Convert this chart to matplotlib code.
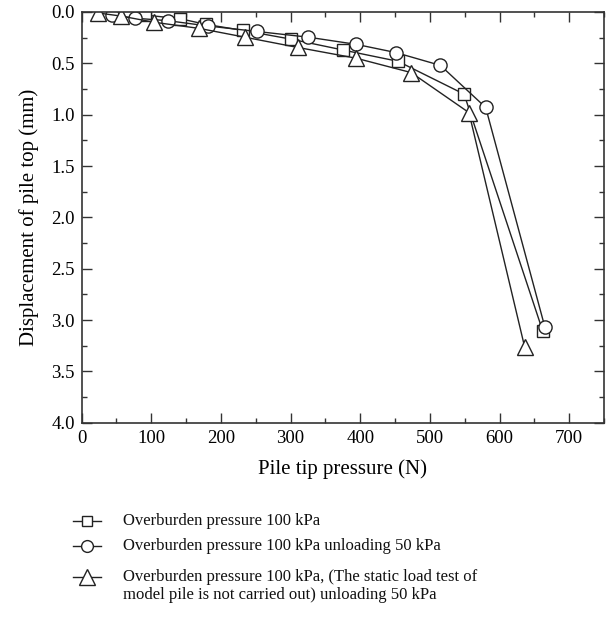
import matplotlib
matplotlib.use("Agg")
import matplotlib.pyplot as plt
from matplotlib.lines import Line2D
from matplotlib.ticker import MultipleLocator

plt.rcParams['font.family'] = ['Liberation Serif', 'DejaVu Serif']

# carga en punta (N) y desplazamiento en cabeza (mm)
x_100 = [91, 141, 178, 232, 301, 375, 454, 549, 662]
y_100 = [0.03, 0.065, 0.12, 0.18, 0.265, 0.37, 0.48, 0.80, 3.11]

x_desc = [43, 76, 124, 181, 252, 325, 394, 451, 515, 580, 665]
y_desc = [0.03, 0.06, 0.085, 0.136, 0.19, 0.245, 0.315, 0.395, 0.52, 0.93, 3.07]

x_sin = [24, 57, 104, 169, 234, 310, 394, 473, 556, 636]
y_sin = [0.01, 0.04, 0.10, 0.16, 0.245, 0.345, 0.45, 0.59, 0.98, 3.265]

etiquetas = [
    "Overburden pressure 100 kPa",
    "Overburden pressure 100 kPa unloading 50 kPa",
    "Overburden pressure 100 kPa, (The static load test of\nmodel pile is not carried out) unloading 50 kPa",
]

W, H = 609, 618
fig = plt.figure(figsize=(W / 100, H / 100), dpi=100)
ax = fig.add_axes([0.134, 0.316, 0.858, 0.6646])

negro = "#222222"
estilo = dict(color=negro, lw=1.0, mfc="white", mec=negro, mew=1.0)
ax.plot(x_100, y_100, marker="s", ms=8.5, **estilo)
ax.plot(x_desc, y_desc, marker="o", ms=9.5, **estilo)
ax.plot(x_sin, y_sin, marker="^", ms=12, **estilo)

ax.set_xlim(0, 750)
ax.set_ylim(4.0, 0.0)
ax.xaxis.set_major_locator(MultipleLocator(100))
ax.xaxis.set_minor_locator(MultipleLocator(50))
ax.yaxis.set_major_locator(MultipleLocator(0.5))
ax.yaxis.set_minor_locator(MultipleLocator(0.25))
ax.set_xticks([0, 100, 200, 300, 400, 500, 600, 700])
ax.set_yticks([0.0, 0.5, 1.0, 1.5, 2.0, 2.5, 3.0, 3.5, 4.0])
ax.set_yticklabels(["0.0", "0.5", "1.0", "1.5", "2.0", "2.5", "3.0", "3.5", "4.0"])

ax.tick_params(which="both", direction="in", top=True, right=True,
               labelsize=13.5, color="#333333", width=1.0)
ax.tick_params(which="major", length=7, pad=5)
ax.tick_params(which="minor", length=3.5)
for s in ax.spines.values():
    s.set_linewidth(1.2)
    s.set_color("#333333")

ax.set_xlabel("Pile tip pressure (N)", fontsize=15, labelpad=9)
ax.set_ylabel("Displacement of pile top (mm)", fontsize=15, labelpad=9)

# leyenda debajo del grafico, armada a mano
marcadores = [("s", 7.5), ("o", 8.5), ("^", 11)]
filas = [521, 546, 577]
for (m, ms), fila, texto in zip(marcadores, filas, etiquetas):
    yf = 1 - fila / H
    fig.add_artist(Line2D([73 / W, 101 / W], [yf, yf], transform=fig.transFigure,
                          color=negro, lw=1.0))
    fig.add_artist(Line2D([87 / W], [yf], transform=fig.transFigure, marker=m, ms=ms,
                          mfc="white", mec=negro, mew=1.0, ls="none"))
    fig.text(123 / W, yf + 8 / H, texto, fontsize=12, va="top", ha="left",
             linespacing=1.15, color="#111111")

fig.savefig("out.png", dpi=100)
